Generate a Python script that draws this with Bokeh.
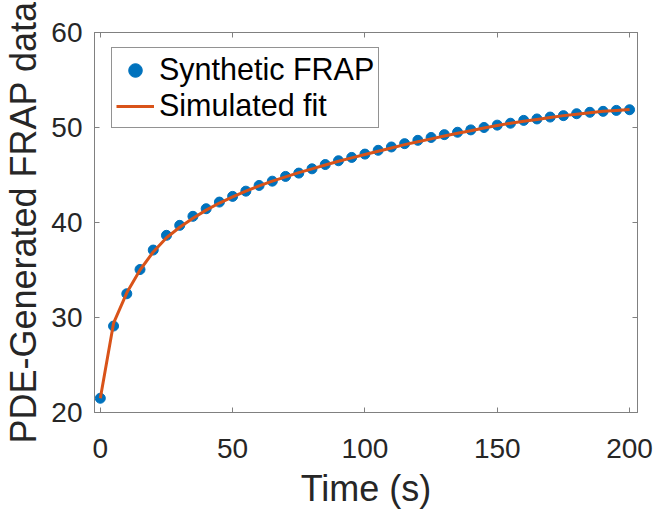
from bokeh.plotting import figure
from bokeh.models import LinearAxis, FixedTicker, CustomJSTickFormatter, Range1d, Legend, LegendItem
from bokeh.embed import file_html
from bokeh.resources import INLINE

time_s = [0, 5, 10, 15, 20, 25, 30, 35, 40, 45, 50, 55, 60, 65, 70, 75, 80, 85, 90, 95, 100,
          105, 110, 115, 120, 125, 130, 135, 140, 145, 150, 155, 160, 165, 170, 175, 180, 185, 190, 195, 200]
synthetic_frap = [21.5, 29.1, 32.5, 35.05, 37.1, 38.65, 39.7, 40.65, 41.45, 42.15, 42.75, 43.3, 43.9,
                  44.35, 44.85, 45.2, 45.65, 46.1, 46.5, 46.85, 47.2, 47.6, 47.95, 48.3, 48.65, 48.95,
                  49.25, 49.5, 49.75, 50.0, 50.25, 50.45, 50.75, 50.9, 51.1, 51.25, 51.45, 51.6, 51.7,
                  51.8, 51.87]
simulated_fit = [21.5, 29.4, 32.6, 35.0, 36.9, 38.4, 39.5, 40.45, 41.3, 42.05, 42.7, 43.3, 43.85,
                 44.35, 44.8, 45.25, 45.65, 46.05, 46.45, 46.8, 47.15, 47.5, 47.85, 48.2, 48.5, 48.8,
                 49.1, 49.4, 49.65, 49.95, 50.2, 50.45, 50.65, 50.85, 51.05, 51.25, 51.4, 51.55, 51.7,
                 51.8, 51.9]
x_ticks = [0, 50, 100, 150, 200]
y_ticks = [20, 30, 40, 50, 60]

FONT = "Liberation Sans"
TXT = "#262626"
FRAME = "#808080"

p = figure(width=658, height=511, output_backend="svg", toolbar_location=None,
           x_range=Range1d(-2.2, 203), y_range=Range1d(20, 60),
           min_border_left=94, min_border_right=21, min_border_top=32, min_border_bottom=98)
p.background_fill_color = "white"
p.border_fill_color = "white"
p.outline_line_color = FRAME
p.outline_line_width = 1
p.grid.visible = False

p.xaxis.axis_label = "Time (s)"
p.yaxis.axis_label = "PDE-Generated FRAP data"
for ax in (p.xaxis[0], p.yaxis[0]):
    ax.axis_label_text_font = FONT
    ax.axis_label_text_font_size = "36px"
    ax.axis_label_text_font_style = "normal"
    ax.axis_label_text_color = TXT
    ax.major_label_text_font = FONT
    ax.major_label_text_font_size = "28px"
    ax.major_label_text_color = TXT
    ax.major_tick_in = 5
    ax.major_tick_out = 0
    ax.minor_tick_in = 0
    ax.minor_tick_out = 0
    ax.major_tick_line_color = FRAME
    ax.axis_line_color = FRAME
p.xaxis[0].ticker = FixedTicker(ticks=x_ticks)
p.yaxis[0].ticker = FixedTicker(ticks=y_ticks)
p.xaxis[0].major_label_standoff = 26
p.xaxis[0].axis_label_standoff = 7
p.yaxis[0].major_label_standoff = 12
p.yaxis[0].axis_label_standoff = 4

blank = CustomJSTickFormatter(code="return ''")
top = LinearAxis(ticker=FixedTicker(ticks=x_ticks), formatter=blank, major_tick_in=5, major_tick_out=0,
                 minor_tick_in=0, minor_tick_out=0, major_label_standoff=0,
                 major_tick_line_color=FRAME, axis_line_color=FRAME)
right = LinearAxis(ticker=FixedTicker(ticks=y_ticks), formatter=blank, major_tick_in=5, major_tick_out=0,
                   minor_tick_in=0, minor_tick_out=0, major_label_standoff=0,
                   major_tick_line_color=FRAME, axis_line_color=FRAME)
p.add_layout(top, "above")
p.add_layout(right, "right")

pts = p.scatter(time_s, synthetic_frap, size=10, fill_color="#0072BD", line_color="#0072BD")
ln = p.line(time_s, simulated_fit, line_color="#D95319", line_width=3)

legend = Legend(items=[LegendItem(label="Synthetic FRAP", renderers=[pts]),
                       LegendItem(label="Simulated fit", renderers=[ln])],
                location=(17, 284))
legend.label_text_font = FONT
legend.label_text_font_size = "30.5px"
legend.label_text_color = "black"
legend.label_height = 34
legend.glyph_height = 34
legend.glyph_width = 38
legend.label_standoff = 5
legend.padding = 4
legend.spacing = 1
legend.margin = 0
legend.border_line_color = "#262626"
legend.border_line_width = 1
legend.background_fill_color = "white"
legend.background_fill_alpha = 1
p.add_layout(legend, "center")

open("out.html", "w").write(file_html(p, INLINE))
